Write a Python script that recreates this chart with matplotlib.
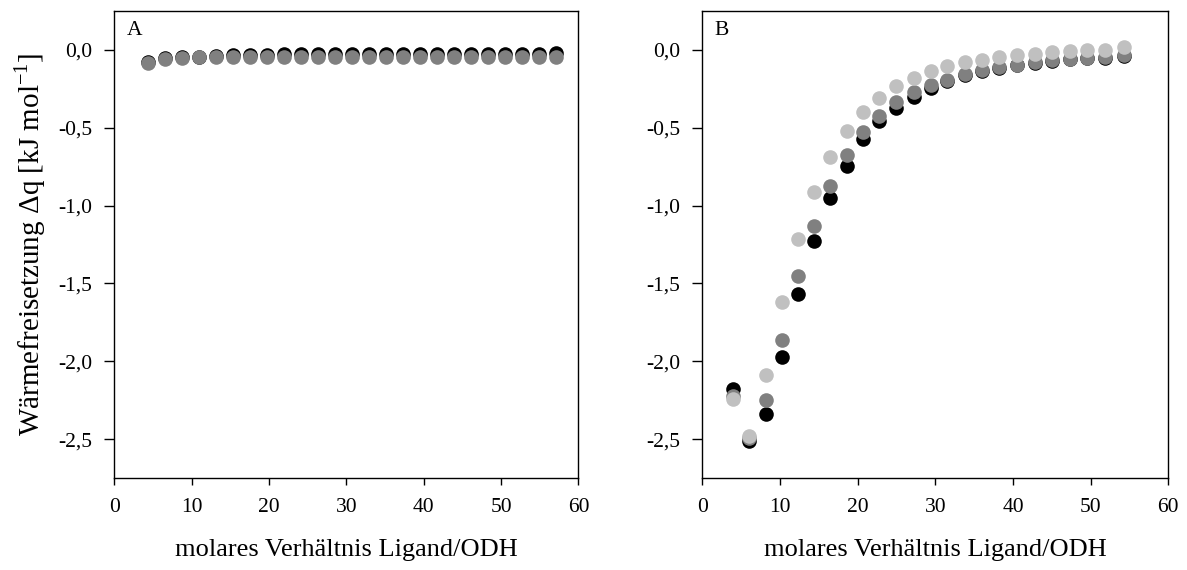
import matplotlib.pyplot as plt

plt.rcParams['font.family'] = ['Liberation Serif', 'DejaVu Serif']

# Panel A
xa = [4.3, 6.5, 8.7, 10.9, 13.1, 15.3, 17.5, 19.7, 21.9, 24.1, 26.3, 28.5, 30.7,
      32.9, 35.1, 37.3, 39.5, 41.7, 43.9, 46.1, 48.3, 50.5, 52.7, 54.9, 57.1]
ya_black = [-0.08, -0.055, -0.048, -0.045, -0.042, -0.036, -0.033, -0.031, -0.030,
            -0.029, -0.030, -0.028, -0.028, -0.028, -0.027, -0.027, -0.026, -0.026,
            -0.026, -0.025, -0.024, -0.024, -0.024, -0.024, -0.023]
ya_gray = [-0.082, -0.056, -0.05, -0.047, -0.046, -0.045, -0.045, -0.045, -0.046,
           -0.046, -0.045, -0.046, -0.046, -0.046, -0.045, -0.046, -0.046, -0.045,
           -0.046, -0.045, -0.046, -0.046, -0.045, -0.046, -0.046]

# Panel B
xb = [4.0, 6.0, 8.2, 10.2, 12.3, 14.4, 16.5, 18.6, 20.7, 22.8, 25.0, 27.2, 29.4,
      31.5, 33.8, 36.0, 38.2, 40.5, 42.8, 45.0, 47.3, 49.5, 51.9, 54.3]
yb_black = [-2.18, -2.51, -2.34, -1.97, -1.57, -1.225, -0.954, -0.745, -0.573,
            -0.459, -0.375, -0.30, -0.244, -0.20, -0.165, -0.138, -0.116, -0.10,
            -0.083, -0.072, -0.061, -0.054, -0.05, -0.04]
yb_gray = [-2.22, -2.49, -2.25, -1.86, -1.455, -1.128, -0.872, -0.676, -0.53,
           -0.423, -0.337, -0.272, -0.225, -0.192, -0.158, -0.132, -0.111, -0.096,
           -0.079, -0.068, -0.057, -0.05, -0.046, -0.035]
yb_light = [-2.24, -2.48, -2.09, -1.62, -1.214, -0.913, -0.69, -0.52, -0.397,
            -0.311, -0.235, -0.182, -0.139, -0.106, -0.079, -0.063, -0.046, -0.035,
            -0.025, -0.014, -0.008, -0.003, 0.001, 0.018]

yticks = [0.0, -0.5, -1.0, -1.5, -2.0, -2.5]
ytick_labels = ['0,0', '-0,5', '-1,0', '-1,5', '-2,0', '-2,5']
xticks = [0, 10, 20, 30, 40, 50, 60]

fig = plt.figure(figsize=(11.87, 5.70), dpi=100)
axA = fig.add_axes([0.0963, 0.161, 0.391, 0.820])
axB = fig.add_axes([0.5917, 0.161, 0.3925, 0.820])

ms = 10.5
axA.plot(xa, ya_black, 'o', color='#000000', ms=ms, mec='none')
axA.plot(xa, ya_gray, 'o', color='#808080', ms=ms, mec='none')

axB.plot(xb, yb_black, 'o', color='#000000', ms=ms, mec='none')
axB.plot(xb, yb_gray, 'o', color='#808080', ms=ms, mec='none')
axB.plot(xb, yb_light, 'o', color='#c0c0c0', ms=ms, mec='none')

for ax, lab in [(axA, 'A'), (axB, 'B')]:
    ax.set_xlim(0, 60)
    ax.set_ylim(-2.75, 0.25)
    ax.set_xticks(xticks)
    ax.set_xticklabels([str(t) for t in xticks])
    ax.set_yticks(yticks)
    ax.set_yticklabels(ytick_labels)
    ax.tick_params(axis='x', direction='out', length=5, width=1, pad=9, labelsize=15.5)
    ax.tick_params(axis='y', direction='out', length=7, width=1, pad=9, labelsize=15.5)
    for s in ax.spines.values():
        s.set_linewidth(1)
    ax.set_xlabel('molares Verhältnis Ligand/ODH', fontsize=19, labelpad=16)
    ax.text(0.027, 0.978, lab, transform=ax.transAxes, fontsize=15.5, va='top', ha='left')

axA.set_ylabel('Wärmefreisetzung Δq [kJ mol$^{\\mathregular{-1}}$]', fontsize=21, labelpad=7)

fig.savefig('out.png', dpi=100)
